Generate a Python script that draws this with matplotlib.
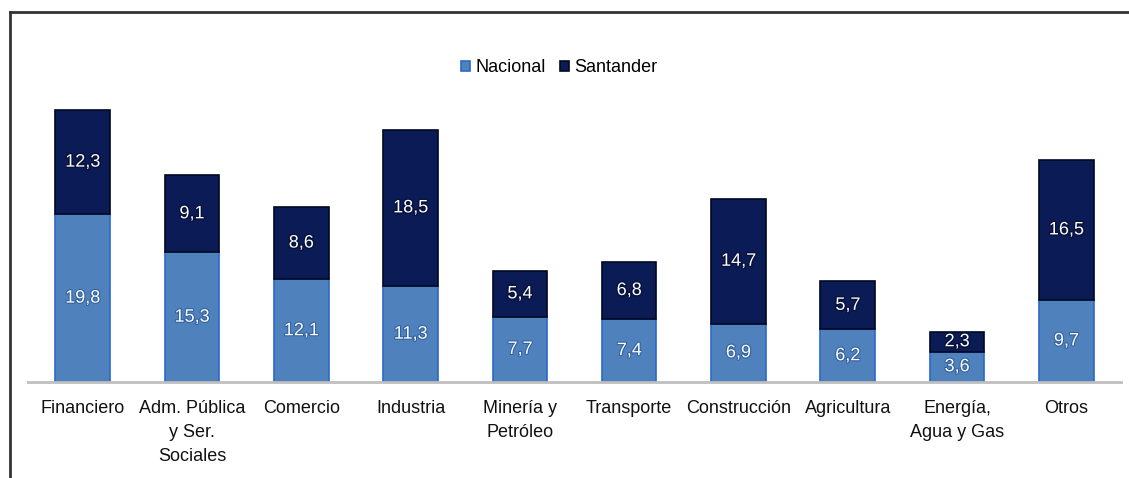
import matplotlib.pyplot as plt
import matplotlib.patheffects as pe
from matplotlib.lines import Line2D
import numpy as np

categories = ["Financiero", "Adm. Pública\ny Ser.\nSociales", "Comercio", "Industria",
              "Minería y\nPetróleo", "Transporte", "Construcción", "Agricultura",
              "Energía,\nAgua y Gas", "Otros"]
nacional = [19.8, 15.3, 12.1, 11.3, 7.7, 7.4, 6.9, 6.2, 3.6, 9.7]
santander = [12.3, 9.1, 8.6, 18.5, 5.4, 6.8, 14.7, 5.7, 2.3, 16.5]

c_nac = "#4f81bd"
c_san = "#0b1b56"

plt.rcParams['font.family'] = ['Liberation Sans', 'DejaVu Sans']

W, H = 1129, 478
fig = plt.figure(figsize=(W / 100, H / 100), dpi=100)
ax = fig.add_axes([28 / W, 1 - 382 / H, (1121 - 28) / W, (382 - 77) / H])

x = np.arange(len(categories))
b1 = ax.bar(x, nacional, width=0.5, color=c_nac, edgecolor="#2a6ac8", linewidth=1.2,
            label="Nacional", zorder=2)
b2 = ax.bar(x, santander, width=0.5, bottom=nacional, color=c_san, edgecolor="#000822",
            linewidth=1.2, label="Santander", zorder=2)

glow_dark = [pe.withStroke(linewidth=2, foreground="#06113a")]
glow_light = [pe.withStroke(linewidth=1.5, foreground="#2f5f9c")]
for xi, n, s in zip(x, nacional, santander):
    ax.text(xi, n / 2, f"{n:.1f}".replace(".", ","), ha="center", va="center",
            color="white", fontsize=13, path_effects=glow_light, zorder=3)
    ax.text(xi, n + s / 2, f"{s:.1f}".replace(".", ","), ha="center", va="center",
            color="white", fontsize=13, path_effects=glow_dark, zorder=3)

ax.set_xlim(-0.5, len(categories) - 0.5)
ax.set_ylim(0, 36)
ax.set_xticks(x)
ax.set_xticklabels(categories, fontsize=13, color="#111111", linespacing=1.55)
ax.tick_params(axis="x", length=0, pad=13)
ax.set_yticks([])
for side in ["top", "right", "left"]:
    ax.spines[side].set_visible(False)
ax.spines["bottom"].set_color("#bfbfbf")
ax.spines["bottom"].set_linewidth(2)

fig.legend(handles=[b1, b2], labels=["Nacional", "Santander"], loc="center",
           bbox_to_anchor=(559 / W, 1 - 68 / H), ncol=2, frameon=False, fontsize=13,
           handlelength=0.5, handleheight=0.5, handletextpad=0.3, columnspacing=0.8)

# outer frame: top and left edges only
fig.add_artist(Line2D([10 / W, 1], [1 - 12 / H, 1 - 12 / H], color="#333333", lw=2))
fig.add_artist(Line2D([10 / W, 10 / W], [0, 1 - 12 / H], color="#333333", lw=2))

fig.savefig("out.png", dpi=100)
